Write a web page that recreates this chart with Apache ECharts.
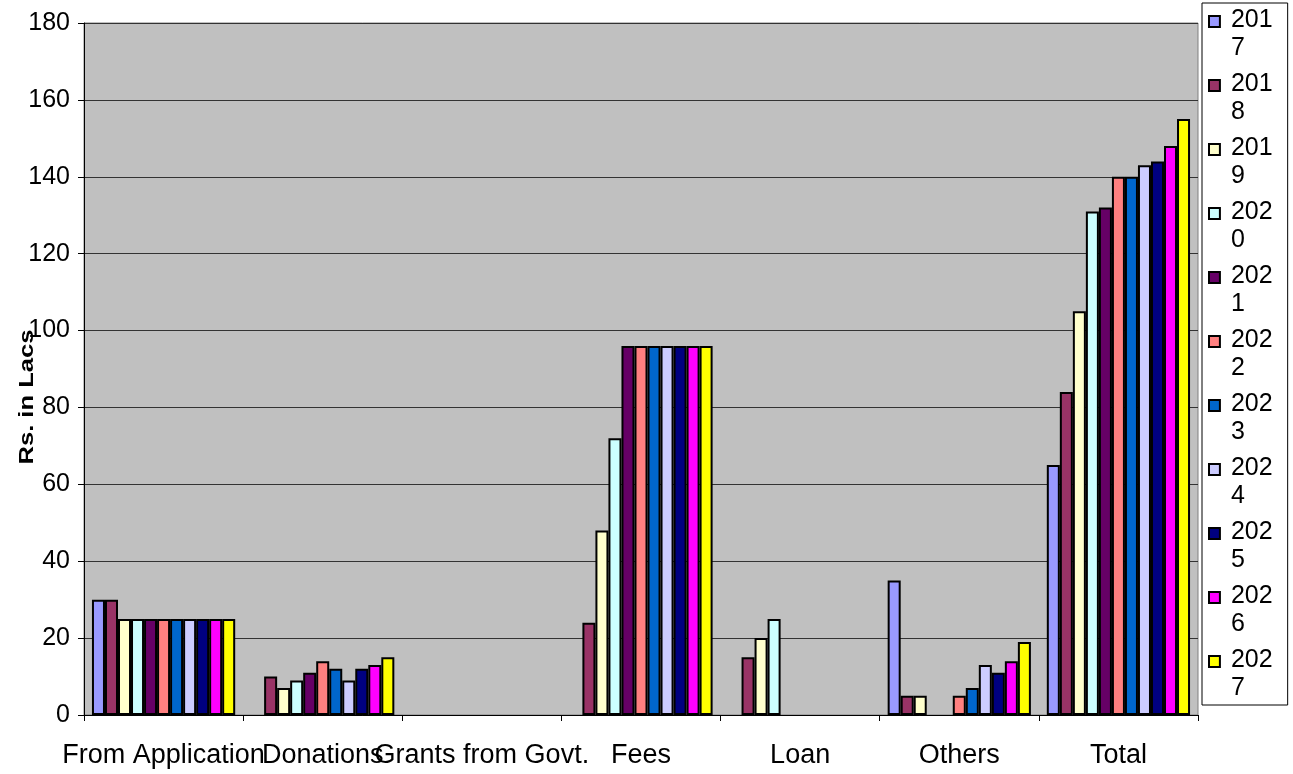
<!DOCTYPE html>
<html><head><meta charset="utf-8">
<script src="https://cdn.jsdelivr.net/npm/echarts@6/dist/echarts.min.js"></script>
<style>html,body{margin:0;padding:0;background:#fff}#c{width:1293px;height:774px}</style>
</head><body><div id="c"></div>
<script>
const categories = ['From Application','Donations','Grants from Govt.','Fees','Loan','Others','Total'];
const years = ['2017','2018','2019','2020','2021','2022','2023','2024','2025','2026','2027'];
const colors = ['#9999FF','#993366','#FFFFCC','#CCFFFF','#660066','#FF8080','#0066CC','#CCCCFF','#000080','#FF00FF','#FFFF00'];
// values per year, in category order
const v2017 = [30, 0, 0, 0, 0, 35, 65];
const v2018 = [30, 10, 0, 24, 15, 5, 84];
const v2019 = [25, 7, 0, 48, 20, 5, 105];
const v2020 = [25, 9, 0, 72, 25, 0, 131];
const v2021 = [25, 11, 0, 96, 0, 0, 132];
const v2022 = [25, 14, 0, 96, 0, 5, 140];
const v2023 = [25, 12, 0, 96, 0, 7, 140];
const v2024 = [25, 9, 0, 96, 0, 13, 143];
const v2025 = [25, 12, 0, 96, 0, 11, 144];
const v2026 = [25, 13, 0, 96, 0, 14, 148];
const v2027 = [25, 15, 0, 96, 0, 19, 155];
const yTicks = [0, 20, 40, 60, 80, 100, 120, 140, 160, 180];
const seriesValues = [v2017,v2018,v2019,v2020,v2021,v2022,v2023,v2024,v2025,v2026,v2027];

const font = '"Liberation Sans", Arial, sans-serif';
const chart = echarts.init(document.getElementById('c'), null, {renderer: 'canvas'});
const legendIcon = 'path://M0,0L10,0L10,10L0,10Z M0,33';
chart.setOption({
  animation: false,
  color: colors,
  grid: {left: 84, right: 95, top: 23, bottom: 59, show: true, backgroundColor: '#C0C0C0', borderColor: '#808080', borderWidth: 1},
  legend: {
    orient: 'vertical', left: 1202, top: 3,
    padding: [3, 15, 3, 6], itemGap: 8, itemWidth: 13, itemHeight: 36,
    borderColor: '#000', borderWidth: 1,
    icon: legendIcon,
    data: years.map(y => ({name: y, icon: legendIcon})),
    formatter: n => n.slice(0, 3) + '\n' + n.slice(3),
    textStyle: {fontFamily: font, fontSize: 25, lineHeight: 28, color: '#000', padding: [0, 0, 0, 5]},
    itemStyle: {borderColor: '#000', borderWidth: 2}
  },
  xAxis: {
    type: 'category', data: categories,
    axisLine: {lineStyle: {color: '#000', width: 1}},
    axisTick: {show: true, length: 6, lineStyle: {color: '#000'}},
    axisLabel: {interval: 0, fontFamily: font, fontSize: 27, color: '#000', margin: 27}
  },
  yAxis: {
    type: 'value', min: yTicks[0], max: yTicks[yTicks.length - 1], interval: 20,
    axisLine: {show: true, lineStyle: {color: '#000'}},
    axisTick: {show: true, length: 6, lineStyle: {color: '#000'}},
    splitLine: {lineStyle: {color: '#333', width: 1.2}},
    axisLabel: {fontFamily: font, fontSize: 25, color: '#000', margin: 14}
  },
  graphic: [{
    type: 'text', x: 27, y: 397, rotation: Math.PI / 2, scaleX: 1.28,
    style: {text: 'Rs. in Lacs', fontFamily: font, fontSize: 20, fontWeight: 'bold', fill: '#000', align: 'center', verticalAlign: 'middle'},
    z: 100
  }],
  series: years.map((y, i) => ({
    name: y, type: 'bar', data: seriesValues[i].map(v => v === 0 ? '-' : v),
    barGap: '0%', barCategoryGap: '10%',
    itemStyle: {color: colors[i], borderColor: '#000', borderWidth: 2}
  }))
});
</script></body></html>
